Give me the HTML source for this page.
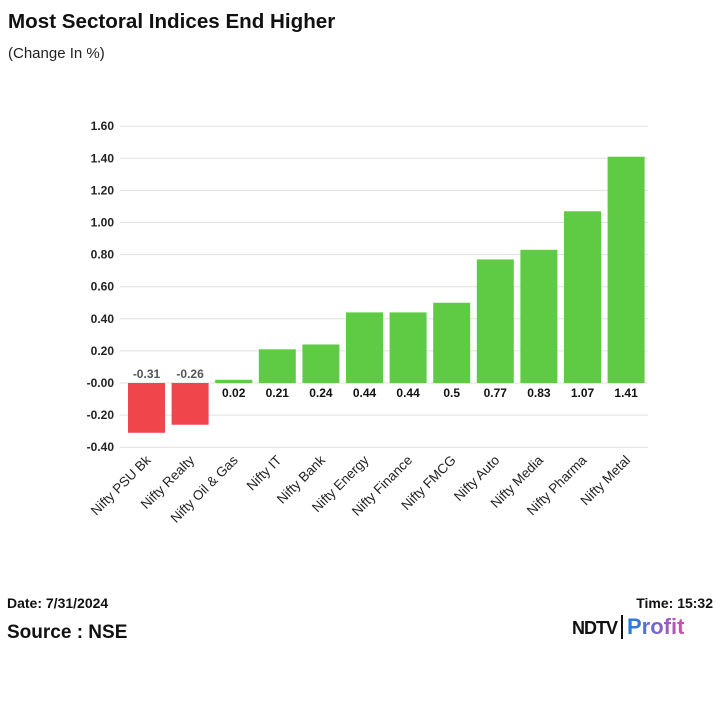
<!DOCTYPE html>
<html><head><meta charset="utf-8"><style>
body{margin:0;width:720px;height:720px;background:#fff;font-family:"Liberation Sans",Arial,sans-serif;overflow:hidden;position:relative}
.t{position:absolute;white-space:nowrap}
</style></head><body>
<div class="t" style="left:8px;top:10px;font-size:20.6px;font-weight:bold;color:#111">Most Sectoral Indices End Higher</div>
<div class="t" style="left:8px;top:45px;font-size:15px;color:#222">(Change In %)</div>
<svg id="chart" width="720" height="600" style="position:absolute;left:0;top:0"></svg>
<div class="t" style="left:7px;top:595px;font-size:14px;font-weight:bold;color:#111">Date: 7/31/2024</div>
<div class="t" style="right:7px;top:595px;font-size:14px;font-weight:bold;color:#111">Time: 15:32</div>
<div class="t" style="left:7px;top:622px;font-size:19px;font-weight:bold;color:#111">Source : NSE</div>
<div class="t" style="left:572px;top:614px;font-size:20px;font-weight:bold;">
<span style="color:#111;letter-spacing:-1px;font-size:18px">NDTV</span><span style="display:inline-block;width:2px;height:24px;background:#111;margin:0 4px;vertical-align:-5px"></span><span style="background:linear-gradient(90deg,#1a7fe0,#d04fb0);-webkit-background-clip:text;color:transparent;font-size:22px">Profit</span></div>
<script>
const categories=["Nifty PSU Bk","Nifty Realty","Nifty Oil & Gas","Nifty IT","Nifty Bank","Nifty Energy","Nifty Finance","Nifty FMCG","Nifty Auto","Nifty Media","Nifty Pharma","Nifty Metal"];
const values=[-0.31,-0.26,0.02,0.21,0.24,0.44,0.44,0.5,0.77,0.83,1.07,1.41];
const labels=["-0.31","-0.26","0.02","0.21","0.24","0.44","0.44","0.5","0.77","0.83","1.07","1.41"];
const ticks=[1.6,1.4,1.2,1.0,0.8,0.6,0.4,0.2,0,-0.2,-0.4];
const tickLabels=["1.60","1.40","1.20","1.00","0.80","0.60","0.40","0.20","-0.00","-0.20","-0.40"];
const svg=document.getElementById('chart');const NS="http://www.w3.org/2000/svg";
const L=120,R=648,BL=124.7,y0=383,ppu=160.5;
const y=v=>y0-v*ppu;const slot=(R-BL)/categories.length*1.0;
function mk(t,a){const e=document.createElementNS(NS,t);for(const k in a)e.setAttribute(k,a[k]);svg.appendChild(e);return e;}
ticks.forEach((t,i)=>{
const g=mk('line',{x1:L,x2:R,y1:y(t),y2:y(t),stroke:'#e0e0e0','stroke-width':1});


const tx=mk('text',{x:114,y:y(t)+4,'text-anchor':'end','font-size':12,'font-weight':'bold',fill:'#222'});tx.textContent=tickLabels[i];


});
const sl=43.6;
categories.forEach((c,i)=>{
const v=values[i];const cx=BL+sl*(i+0.5);const w=37;
const top=Math.min(y(v),y(0)),h=Math.abs(y(v)-y(0));
const b=mk('rect',{x:cx-w/2,y:top,width:w,height:Math.max(h,1),fill:v<0?'#f0454b':'#5fcb45'});


const vl=mk('text',{x:cx,y:v<0?y(0)-5:y(0)+14,'text-anchor':'middle','font-size':12,'font-weight':'bold',fill:v<0?'#555':'#111'});vl.textContent=labels[i];


const cl=mk('text',{x:0,y:0,'text-anchor':'end','font-size':13.5,fill:'#222',transform:`translate(${cx+5},${461}) rotate(-45)`});cl.textContent=c;


});
</script>
</body></html>
